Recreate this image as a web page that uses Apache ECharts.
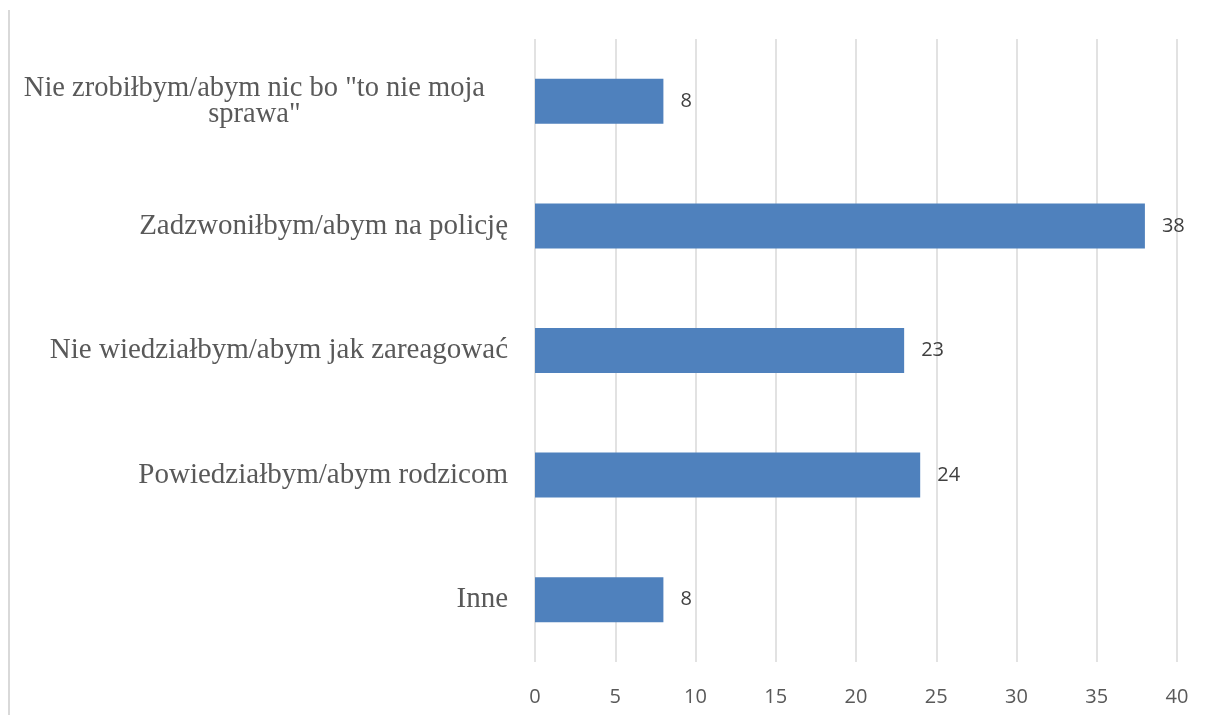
<!DOCTYPE html>
<html>
<head>
<meta charset="utf-8">
<script src="https://cdn.jsdelivr.net/npm/echarts@6/dist/echarts.min.js"></script>
<style>html,body{margin:0;padding:0;background:#fff}#c{width:1208px;height:715px}</style>
</head>
<body>
<div id="c"></div>
<script>
const categories = [
  'Nie zrobiłbym/abym nic bo "to nie moja\nsprawa"',
  'Zadzwoniłbym/abym na policję',
  'Nie wiedziałbym/abym jak zareagować',
  'Powiedziałbym/abym rodzicom',
  'Inne'
];
const values = [8, 38, 23, 24, 8];
const xTicks = [0, 5, 10, 15, 20, 25, 30, 35, 40];

const chart = echarts.init(document.getElementById('c'));
chart.setOption({
  animation: false,
  backgroundColor: '#ffffff',
  graphic: [{
    type: 'line',
    shape: {x1: 9, y1: 10, x2: 9, y2: 715},
    style: {stroke: '#d9d9d9', lineWidth: 2}
  }],
  grid: {left: 535, right: 31, top: 39, bottom: 53},
  xAxis: {
    type: 'value',
    min: xTicks[0],
    max: xTicks[xTicks.length - 1],
    interval: 5,
    axisLine: {show: false},
    axisTick: {show: false},
    splitLine: {show: true, lineStyle: {color: '#d9d9d9', width: 1.5}},
    axisLabel: {
      margin: 25,
      fontFamily: 'Open Sans, sans-serif',
      fontSize: 20,
      color: '#595959'
    }
  },
  yAxis: {
    type: 'category',
    data: categories,
    inverse: true,
    axisLine: {show: false},
    axisTick: {show: false},
    splitLine: {show: false},
    axisLabel: {
      margin: 27,
      fontFamily: 'Liberation Serif, Times New Roman, serif',
      fontSize: 29,
      color: '#595959',
      lineHeight: 27,
      formatter: function (v, i) {
        if (v.indexOf('\n') >= 0) {
          return v.split('\n').map(function (l, k) {
            return (k === 0 ? '{a|' : '{w|') + l + '}';
          }).join('\n');
        }
        return v;
      },
      rich: {
        a: {
          align: 'center',
          fontFamily: 'Liberation Serif, Times New Roman, serif',
          fontSize: 28.5,
          color: '#595959',
          lineHeight: 27,
          padding: [10, 23, 0, 0]
        },
        w: {
          align: 'center',
          fontFamily: 'Liberation Serif, Times New Roman, serif',
          fontSize: 28.5,
          color: '#595959',
          lineHeight: 35,
          padding: [0, 23, 0, 0]
        }
      }
    }
  },
  series: [{
    type: 'bar',
    data: values,
    barWidth: 45,
    itemStyle: {color: '#4f81bd'},
    label: {
      show: true,
      position: 'right',
      distance: 17,
      fontFamily: 'Open Sans, sans-serif',
      fontSize: 20,
      color: '#404040'
    }
  }]
});
</script>
</body>
</html>
